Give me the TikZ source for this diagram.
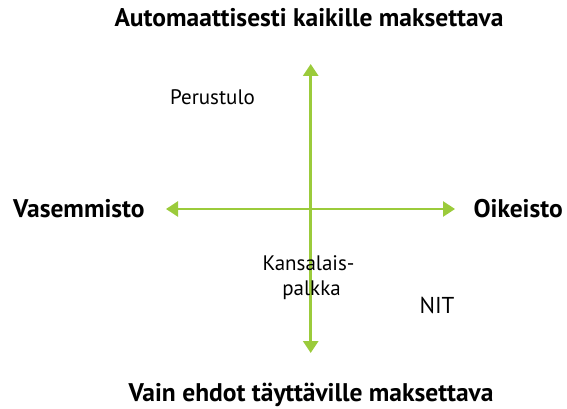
\documentclass[tikz,border=0pt]{standalone}
\usepackage{fontspec}
\setmainfont{PT Sans}
\usetikzlibrary{arrows.meta}
\definecolor{axisgreen}{HTML}{9BCB3B}
\tikzset{
  axis/.style={draw=axisgreen, line width=2.8pt, {Triangle[width=15pt,length=12pt]}-{Triangle[width=15pt,length=12pt]}},
  heading/.style={font=\fontsize{25.5}{30}\selectfont\bfseries, inner sep=0pt, anchor=base},
  label/.style={font=\fontsize{21}{25}\selectfont, inner sep=0pt, anchor=base, align=center}
}
\begin{document}
\begin{tikzpicture}[x=1pt,y=-1pt]
  \useasboundingbox (0,0) rectangle (567,409);
  \coordinate (top) at (310.7,64);
  \coordinate (bottom) at (310.7,353);
  \coordinate (left) at (166,209);
  \coordinate (right) at (455,209);
  \draw[axis] (bottom) -- (top);
  \draw[axis] (left) -- (right);
  \node[heading] (t) at (309,27) {Automaattisesti kaikille maksettava};
  \node[heading] (b) at (311,401) {Vain ehdot täyttäville maksettava};
  \node[heading, anchor=base west] (l) at (13,217) {Vasemmisto};
  \node[heading, anchor=base east] (r) at (563,217) {Oikeisto};
  \node[label] (p) at (212.5,105) {Perustulo};
  \node[label] (k1) at (308.5,270) {Kansalais-};
  \node[label] (k2) at (311.5,295) {palkka};
  \node[label, font=\fontsize{23}{27}\selectfont] (n) at (437,313) {NIT};
\end{tikzpicture}
\end{document}
